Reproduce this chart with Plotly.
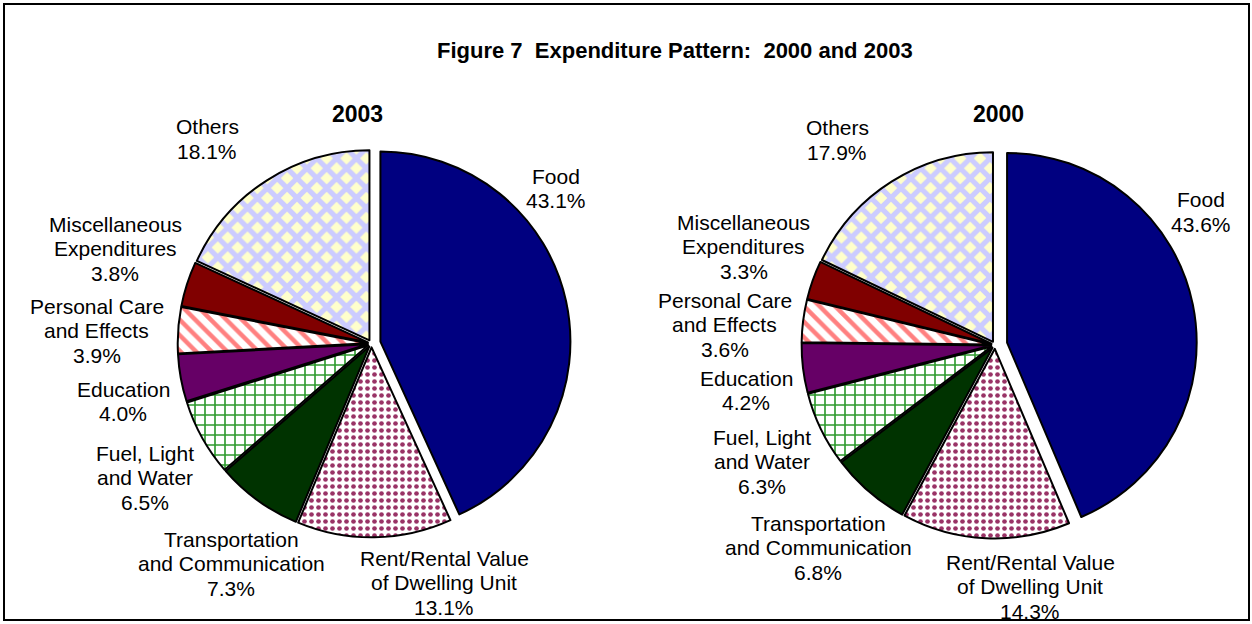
import plotly.graph_objects as go

# ---------------- data ----------------
categories = ["Food", "Rent/Rental Value<br>of Dwelling Unit", "Transportation<br>and Communication",
              "Fuel, Light<br>and Water", "Education", "Personal Care<br>and Effects",
              "Miscellaneous<br>Expenditures", "Others"]
values_2003 = [43.1, 13.1, 7.3, 6.5, 4.0, 3.9, 3.8, 18.1]
values_2000 = [43.6, 14.3, 6.8, 6.3, 4.2, 3.6, 3.3, 17.9]
years = ["2003", "2000"]
title_text = "Figure 7\u00a0\u00a0Expenditure Pattern:\u00a0\u00a02000 and 2003"

# ---------------- styles ----------------
W, H = 1252, 624
FONT = "Arial, Liberation Sans, sans-serif"
bg_colors = ["#000080", "#FFFFFF", "#003300", "#FFFFFF", "#660066", "#FFFFFF", "#800000", "#FFFFCC"]
fg_colors = ["#000080", "#993366", "#003300", "#2E9A2E", "#660066", "#FF8080", "#800000", "#CCCCFF"]
shapes_p = ["", ".", "", "+", "", "\\", "", "x"]
sizes_p = [8, 7, 8, 10, 8, 11, 8, 14]
solid_p = [0.3, 0.35, 0.3, 0.3, 0.3, 0.4, 0.3, 0.6]

pulls = {"2003": [0.048, 0.02, 0.02, 0.02, 0.02, 0.02, 0.02, 0.02],
         "2000": [0.065, 0.02, 0.02, 0.02, 0.02, 0.02, 0.02, 0.02]}
centers = {"2003": (371.5, 343.5, 190.0), "2000": (995.0, 345.0, 189.6)}

# label positions (center x, first line y) in pixels
label_pos = {
    "2003": [(556, 176), (444, 558), (231, 539), (145, 453), (123, 389), (97, 306), (115, 224), (207, 127)],
    "2000": [(1201, 200), (1030, 562), (818, 523), (762, 437), (746, 378), (725, 300), (744, 222), (837, 128)],
}
subtitle_pos = {"2003": (357, 114), "2000": (998, 114)}
LINE = 24.5

fig = go.Figure()
annotations = []
for yr, vals in zip(years, [values_2003, values_2000]):
    cx, cy, r = centers[yr]
    half = r * (1 + max(pulls[yr]))
    dom_x = [(cx - half) / W, (cx + half) / W]
    dom_y = [(H - cy - half) / H, (H - cy + half) / H]
    fig.add_trace(go.Pie(
        labels=[c.replace("<br>", " ") for c in categories],
        values=vals,
        sort=False,
        direction="clockwise",
        rotation=0,
        pull=pulls[yr],
        textinfo="none",
        hoverinfo="label+percent",
        showlegend=False,
        domain=dict(x=dom_x, y=dom_y),
        marker=dict(
            colors=bg_colors,
            line=dict(color="black", width=2),
            pattern=dict(shape=shapes_p, fgcolor=fg_colors, bgcolor=bg_colors,
                         size=sizes_p, solidity=solid_p, fillmode="replace"),
        ),
    ))
    for cat, v, (lx, ly) in zip(categories, vals, label_pos[yr]):
        lines = cat.split("<br>") + [f"{v:.1f}%"]
        for i, ln in enumerate(lines):
            annotations.append(dict(
                x=lx / W, y=1 - (ly + i * LINE) / H, xref="paper", yref="paper",
                text=ln, showarrow=False, xanchor="center", yanchor="middle",
                font=dict(family=FONT, size=21, color="black"),
            ))
    sx, sy = subtitle_pos[yr]
    annotations.append(dict(
        x=sx / W, y=1 - sy / H, xref="paper", yref="paper", text=f"<b>{yr}</b>",
        showarrow=False, xanchor="center", yanchor="middle",
        font=dict(family=FONT, size=23, color="black"),
    ))

annotations.append(dict(
    x=675 / W, y=1 - 50 / H, xref="paper", yref="paper", text=f"<b>{title_text}</b>",
    showarrow=False, xanchor="center", yanchor="middle",
    font=dict(family=FONT, size=22, color="black"),
))

fig.update_layout(
    width=W, height=H,
    margin=dict(l=0, r=0, t=0, b=0),
    paper_bgcolor="white",
    plot_bgcolor="white",
    annotations=annotations,
    shapes=[dict(type="rect", xref="paper", yref="paper",
                 x0=4 / W, x1=1249 / W, y0=1 - 620 / H, y1=1 - 4 / H,
                 line=dict(color="black", width=2), fillcolor="rgba(0,0,0,0)")],
)

fig.write_html("out.html", config={"displayModeBar": False},
               post_script="document.body.style.margin='0';document.body.style.overflow='hidden';")
